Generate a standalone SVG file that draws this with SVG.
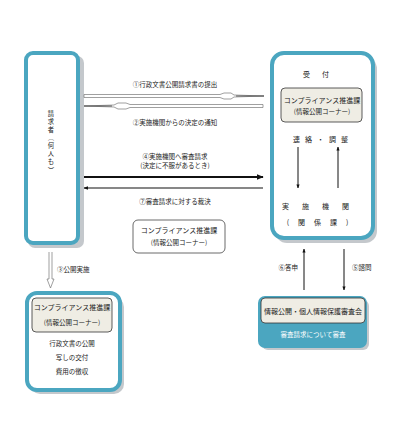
<svg xmlns="http://www.w3.org/2000/svg" width="400" height="422" viewBox="0 0 400 422">
<defs>
<style>
text{font-family:"Noto Sans CJK JP","Noto Sans",sans-serif;font-size:6.5px;fill:#222}
.c{text-anchor:middle}
.v{text-anchor:middle;font-size:6.3px}
.outer{fill:#fff;stroke:#4ba6c0;stroke-width:4}
.shadow{fill:#c4c8cc}
.inner{fill:#efede4;stroke:#333;stroke-width:0.8}
.ln{stroke:#111;fill:none}
.hol{fill:#fff;stroke:#777;stroke-width:0.7}
</style>
<marker id="ah" viewBox="0 0 10 10" refX="9" refY="5" markerWidth="4" markerHeight="4" orient="auto-start-reverse">
<path d="M0,1 L10,5 L0,9 Z" fill="#111"/>
</marker>
</defs>
<rect width="400" height="422" fill="#fff"/>

<g id="requester">
<rect class="shadow" x="28" y="56" width="56" height="192" rx="7"/>
<rect class="outer" x="26" y="53" width="52" height="190" rx="7"/>
<text x="51" y="116" class="v">請</text>
<text x="51" y="124" class="v">求</text>
<text x="51" y="132" class="v">者</text>
<text x="51" y="140" class="v" transform="rotate(90 51 138)">（</text>
<text x="51" y="148" class="v">何</text>
<text x="51" y="156" class="v">人</text>
<text x="51" y="164" class="v">も</text>
<text x="51" y="172" class="v" transform="rotate(90 51 170)">）</text>
</g>

<g id="reception">
<rect class="shadow" x="275" y="57" width="102" height="186" rx="12"/>
<rect class="outer" x="272" y="53" width="101" height="185" rx="12"/>
<text x="322" y="77" class="c" style="letter-spacing:12px;font-size:7px">受付</text>
<rect class="inner" x="281" y="88" width="81" height="34" rx="4"/>
<text x="322" y="103" class="c" style="font-size:7px">コンプライアンス推進課</text>
<text x="322" y="114" class="c">(情報公開コーナー)</text>
<text x="323" y="142" class="c" style="letter-spacing:5px;font-size:7px">連絡・調整</text>
<text x="322" y="209" class="c" style="letter-spacing:13px;font-size:7px">実施機関</text>
<text x="322" y="225" class="c" style="letter-spacing:9px;font-size:7px">(関係課)</text>
</g>

<g id="center-box">
<rect x="133" y="220" width="92" height="33" rx="5" fill="#fff" stroke="#444" stroke-width="0.8"/>
<text x="179" y="233" class="c" style="font-size:7px">コンプライアンス推進課</text>
<text x="179" y="245" class="c">(情報公開コーナー)</text>
</g>

<g id="disclosure">
<rect class="shadow" x="30" y="297" width="94" height="97" rx="10"/>
<rect class="outer" x="27" y="293" width="93" height="97" rx="10"/>
<rect class="inner" x="32" y="298" width="80" height="34" rx="4"/>
<text x="72" y="310" class="c" style="font-size:7px">コンプライアンス推進課</text>
<text x="72" y="325" class="c">(情報公開コーナー)</text>
<text x="72" y="346" class="c">行政文書の公開</text>
<text x="72" y="360" class="c">写しの交付</text>
<text x="72" y="374" class="c">費用の徴収</text>
</g>

<g id="council">
<rect class="shadow" x="262" y="300" width="107" height="50" rx="6"/>
<rect x="259" y="297" width="107" height="50" rx="6" fill="#4ba6c0" stroke="#4ba6c0" stroke-width="2"/>
<rect class="inner" x="261" y="298" width="104" height="25" rx="4"/>
<text x="313" y="314" class="c" style="font-size:7px">情報公開・個人情報保護審査会</text>
<text x="313" y="337" class="c" style="fill:#fff">審査請求について審査</text>
</g>

<g id="connectors">
<path class="hol" d="M84,94.5 H220 L224,93 H231 L234,95 L264,96 L234,97 L231,99 H224 L220,97.5 H84 Z"/>
<line class="ln" x1="236" y1="96" x2="264" y2="96" stroke-width="0.6"/>
<text x="175" y="87" class="c">①行政文書公開請求書の提出</text>
<path class="hol" d="M263,104.5 H130 L126,103 H118 L114,105 L84,106 L114,107 L118,109 H126 L130,107.5 H263 Z"/>
<line class="ln" x1="84" y1="106" x2="112" y2="106" stroke-width="0.6"/>
<text x="175" y="125" class="c">②実施機関からの決定の通知</text>

<text x="175" y="159" class="c">④実施機関へ審査請求</text>
<text x="175" y="168" class="c">(決定に不服があるとき)</text>
<line class="ln" x1="84" y1="177" x2="263" y2="177" stroke-width="1.8" marker-end="url(#ah)"/>
<line class="ln" x1="263" y1="188" x2="84" y2="188" stroke-width="1.2" marker-end="url(#ah)"/>
<text x="175" y="204" class="c">⑦審査請求に対する裁決</text>

<path class="hol" d="M49,252 V279 H47 L50.5,288 L54,279 H52 V252"/>
<text x="57" y="272">③公開実施</text>

<line class="ln" x1="298" y1="147" x2="298" y2="188" stroke-width="1" marker-end="url(#ah)"/>
<line class="ln" x1="338" y1="188" x2="338" y2="147" stroke-width="1" marker-end="url(#ah)"/>

<line class="ln" x1="304" y1="290" x2="304" y2="249" stroke-width="1" marker-end="url(#ah)"/>
<text x="298" y="270" style="text-anchor:end">⑥答申</text>
<line class="ln" x1="344" y1="249" x2="344" y2="290" stroke-width="1" marker-end="url(#ah)"/>
<text x="352" y="270">⑤諮問</text>
</g>
</svg>
